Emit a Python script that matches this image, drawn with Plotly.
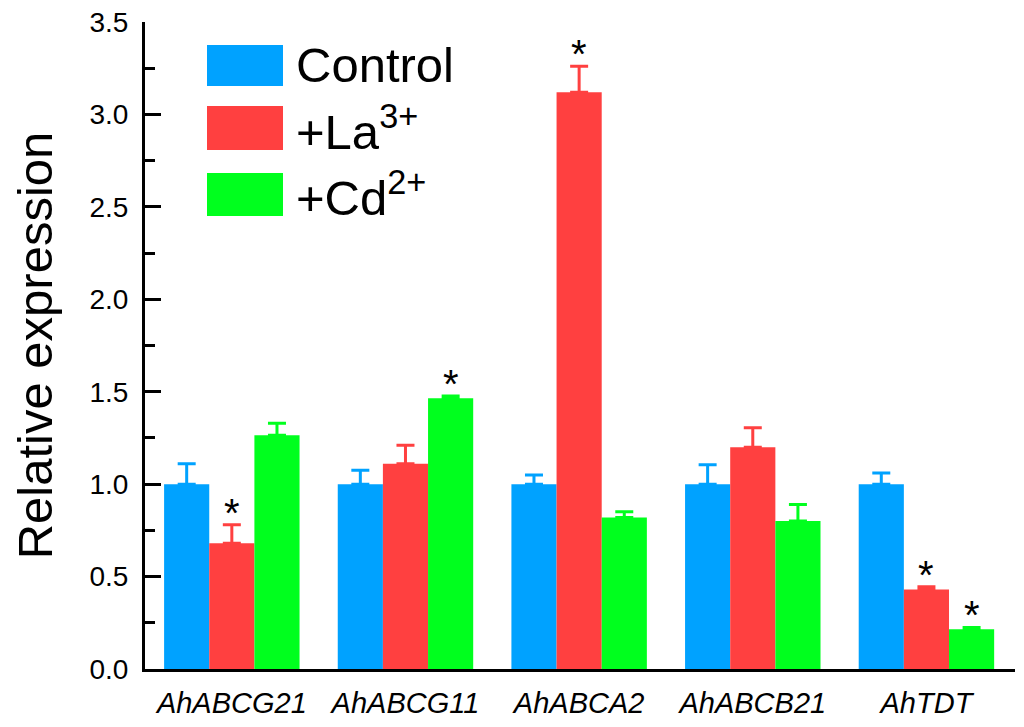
import plotly.graph_objects as go

genes = ["AhABCG21", "AhABCG11", "AhABCA2", "AhABCB21", "AhTDT"]
series_names = ["Control", "+La<sup>3+</sup>", "+Cd<sup>2+</sup>"]
control = [1.00, 1.00, 1.00, 1.00, 1.00]
control_err = [0.11, 0.075, 0.05, 0.105, 0.06]
la = [0.68, 1.11, 3.12, 1.20, 0.43]
la_err = [0.10, 0.10, 0.14, 0.105, 0.015]
cd = [1.265, 1.465, 0.82, 0.80, 0.215]
cd_err = [0.065, 0.012, 0.03, 0.09, 0.01]
# significance marks (series index, gene index)
signif = [(1, 0), (2, 1), (1, 2), (1, 4), (2, 4)]

colors = ["#00A2FF", "#FF4040", "#00FF1E"]
FONT = "Arial, Liberation Sans, sans-serif"
BARGAP = 0.22
# page body has an 8px margin, so the figure is a bit smaller than the window
OFF = 8
W, H = 1024 - 2 * OFF, 727 - 2 * OFF
ML, MR, MT, MB = 145 - OFF, 1, 22 - OFF, 58 - OFF

values = [control, la, cd]
errors = [control_err, la_err, cd_err]
xs = list(range(len(genes)))

fig = go.Figure()
for k in range(3):
    fig.add_trace(go.Bar(
        x=xs, y=values[k], name=series_names[k],
        marker=dict(color=colors[k], line=dict(width=0)),
        error_y=dict(type="data", array=errors[k], arrayminus=[0] * len(genes),
                     symmetric=False, color=colors[k], thickness=3, width=9),
        showlegend=False,
    ))

bw = (1 - BARGAP) / 3
for k, i in signif:
    fig.add_annotation(
        x=i + (k - 1) * bw, y=values[k][i] + errors[k][i],
        text="*", showarrow=False, yanchor="bottom", yshift=-12,
        font=dict(family=FONT, size=40, color="black"),
    )

# manual legend with large swatches (positions in window pixels)
pw = W - ML - MR
ph = H - MT - MB
def px_x(p):
    return (p - OFF - ML) / pw
def px_y(p):
    return (H - MB - (p - OFF)) / ph

legend_rows = [(45, 86), (106, 150), (173, 216)]
for k, (top, bot) in enumerate(legend_rows):
    fig.add_shape(type="rect", xref="paper", yref="paper",
                  x0=px_x(207), x1=px_x(283), y0=px_y(bot), y1=px_y(top),
                  fillcolor=colors[k], line=dict(width=0), layer="above")
    fig.add_annotation(xref="paper", yref="paper", x=px_x(294),
                       y=px_y((top + bot) / 2), text=series_names[k],
                       showarrow=False, xanchor="left", yanchor="middle",
                       font=dict(family=FONT, size=49, color="black"))

fig.update_layout(
    width=W, height=H,
    margin=dict(l=ML, r=MR, t=MT, b=MB),
    plot_bgcolor="white", paper_bgcolor="white",
    barmode="group", bargap=BARGAP, bargroupgap=0,
    font=dict(family=FONT, color="black"),
    xaxis=dict(
        range=[-0.5, 4.51], tickvals=xs,
        ticktext=["<i>%s</i>" % g for g in genes],
        showline=True, linecolor="black", linewidth=3,
        ticks="", showgrid=False, zeroline=False, automargin=False,
        ticklabelstandoff=6, ticklabeloverflow="allow",
        tickfont=dict(family=FONT, size=29),
    ),
    yaxis=dict(
        range=[0, 3.5], dtick=0.5, tickformat=".1f",
        showline=True, linecolor="black", linewidth=3,
        ticks="inside", ticklen=16, tickwidth=3, tickcolor="black",
        minor=dict(dtick=0.25, ticks="inside", ticklen=10, tickwidth=3, tickcolor="black"),
        showgrid=False, zeroline=False, automargin=False,
        ticklabelstandoff=8, ticklabeloverflow="allow",
        tickfont=dict(family=FONT, size=28),
        title=dict(text="Relative expression", font=dict(family=FONT, size=49), standoff=34),
    ),
)

fig.write_html("out.html")
